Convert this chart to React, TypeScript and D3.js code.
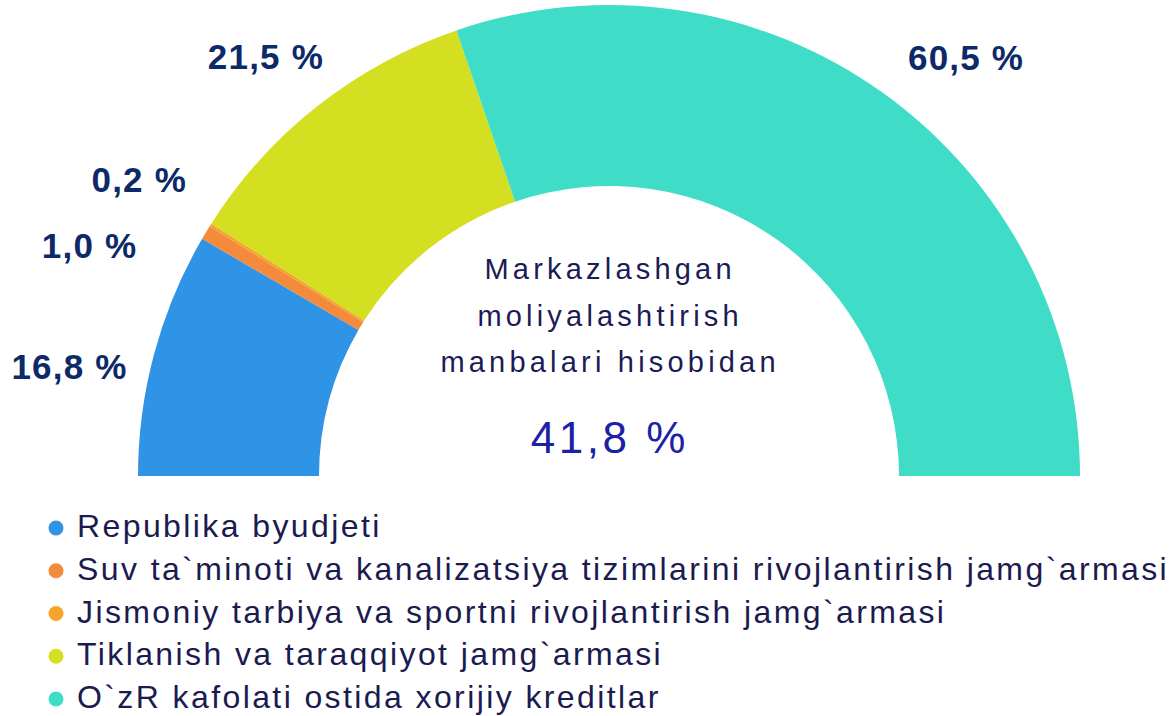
import React from "react";
import * as d3 from "d3";

const categories = [
  "Republika byudjeti",
  "Suv ta`minoti va kanalizatsiya tizimlarini rivojlantirish jamg`armasi",
  "Jismoniy tarbiya va sportni rivojlantirish jamg`armasi",
  "Tiklanish va taraqqiyot jamg`armasi",
  "O`zR kafolati ostida xorijiy kreditlar",
];
const values = [16.8, 1.0, 0.2, 21.5, 60.5];
const valueLabels = ["16,8 %", "1,0 %", "0,2 %", "21,5 %", "60,5 %"];
const colors = ["#2F93E6", "#F48A3C", "#F4A52A", "#D5DF22", "#3FDCC7"];
const centerLines = ["Markazlashgan", "moliyalashtirish", "manbalari hisobidan"];
const centerValue = "41,8 %";

// layout
const W = 1176;
const H = 716;
const cx = 609;
const cy = 476;
const rOuter = 471;
const rInner = 290;
const labelRadius = [551, 569, 556, 542, 550];
const labelNudgeDeg = [-3.7, -7.2, 0, -1.1, 4.85];
const FONT = "'Liberation Sans', Arial, sans-serif";

export default function App() {
  const pie = d3
    .pie<number>()
    .sort(null)
    .startAngle(-Math.PI / 2)
    .endAngle(Math.PI / 2)
    .value((d) => d);
  const arcs = pie(values);
  const arc = d3.arc<d3.PieArcDatum<number>>().innerRadius(rInner).outerRadius(rOuter);

  const legendY = d3.scalePoint<number>().domain(d3.range(categories.length)).range([528, 699]);

  const labelLS = 1.2;
  const centerLS = 4.2;
  const valueLS = 3.5;
  const legendLS = 2.4;

  return (
    <svg
      width={W}
      height={H}
      style={{ position: "absolute", left: 0, top: 0, background: "#fff" }}
      fontFamily={FONT}
    >
      <g transform={`translate(${cx},${cy})`}>
        {arcs.map((a, i) => (
          <path key={i} d={arc(a) || ""} fill={colors[i]} />
        ))}
        {arcs.map((a, i) => {
          const mid = (a.startAngle + a.endAngle) / 2 + (labelNudgeDeg[i] * Math.PI) / 180;
          const r = labelRadius[i];
          const x = Math.sin(mid) * r;
          const y = -Math.cos(mid) * r;
          return (
            <text
              key={i}
              x={x + labelLS / 2}
              y={y}
              textAnchor="middle"
              dominantBaseline="central"
              fontSize={35}
              fontWeight="bold"
              letterSpacing={labelLS}
              fill="#0D2A68"
            >
              {valueLabels[i]}
            </text>
          );
        })}
        {centerLines.map((t, i) => (
          <text
            key={i}
            x={-1 + centerLS / 2}
            y={-197 + i * 46.5}
            textAnchor="middle"
            fontSize={29}
            letterSpacing={centerLS}
            fill="#1B1B55"
          >
            {t}
          </text>
        ))}
        <text
          x={-1 + valueLS / 2}
          y={-23}
          textAnchor="middle"
          fontSize={44}
          letterSpacing={valueLS}
          fill="#1C22A6"
        >
          {centerValue}
        </text>
      </g>
      {categories.map((c, i) => (
        <g key={i} transform={`translate(0,${legendY(i)})`}>
          <circle cx={56} cy={0} r={7.5} fill={colors[i]} />
          <text x={77} y={9} fontSize={32} letterSpacing={legendLS} fill="#1B1B4F">
            {c}
          </text>
        </g>
      ))}
    </svg>
  );
}
